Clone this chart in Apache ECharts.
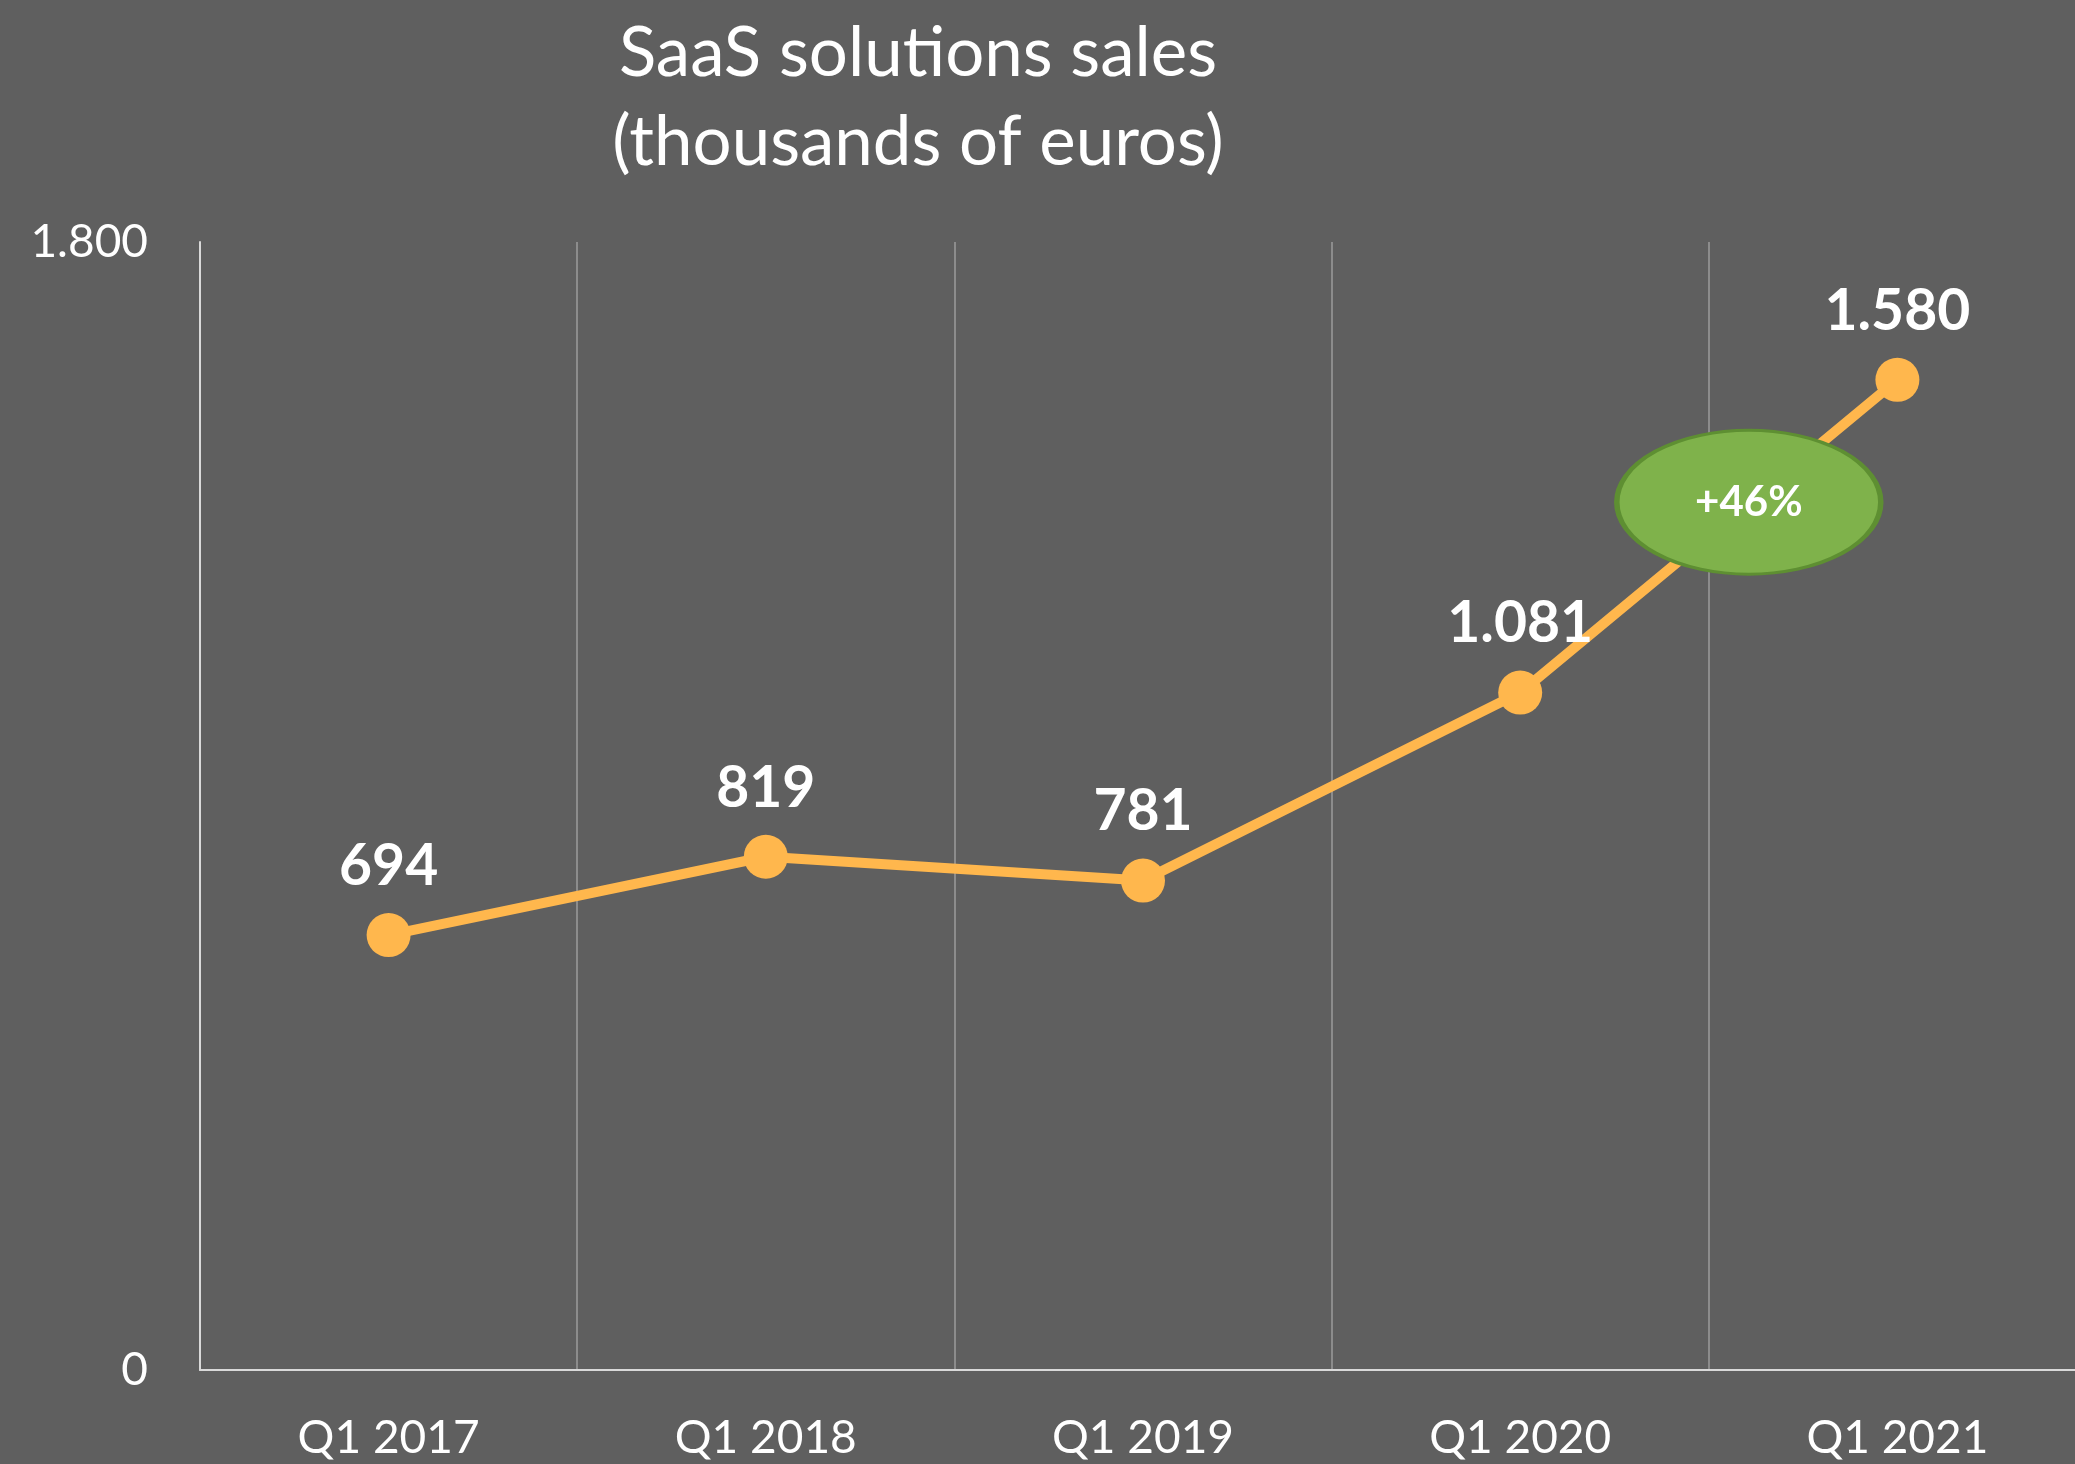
<!DOCTYPE html>
<html>
<head>
<meta charset="utf-8">
<script src="https://cdn.jsdelivr.net/npm/echarts@6/dist/echarts.min.js"></script>
<style>
html,body{margin:0;padding:0;background:#5f5f5f;}
#main{width:2075px;height:1464px;}
</style>
</head>
<body>
<div id="main"></div>
<script>
var categories = ['Q1 2017', 'Q1 2018', 'Q1 2019', 'Q1 2020', 'Q1 2021'];
var sales = [694, 819, 781, 1081, 1580];
var growthText = '+46%';

// formato europeo: 1.580
function fmt(v){
	return String(v).replace(/\B(?=(\d{3})+(?!\d))/g, '.');
}

var myChart = echarts.init(document.getElementById('main'));
var option = {
	backgroundColor: '#5f5f5f',
	animation: false,
	title: {
		text: 'SaaS solutions sales\n(thousands of euros)',
		left: 913,
		top: 4,
		textAlign: 'center',
		textStyle: {
			color: '#ffffff',
			fontFamily: 'Lato',
			fontWeight: 'normal',
			fontSize: 69,
			lineHeight: 89
		}
	},
	grid: {
		left: 200,
		width: 1886,
		top: 242,
		bottom: 94,
		outerBoundsMode: 'none'
	},
	xAxis: {
		type: 'category',
		data: categories,
		boundaryGap: true,
		axisLine: {lineStyle: {color: '#d9d9d9', width: 2}},
		axisTick: {show: false},
		axisLabel: {
			color: '#ffffff',
			fontFamily: 'Lato',
			fontSize: 46,
			margin: 45
		},
		splitLine: {show: true, lineStyle: {color: '#8c8c8c', width: 2}}
	},
	yAxis: {
		type: 'value',
		min: 0,
		max: 1800,
		interval: 1800,
		axisLine: {show: true, lineStyle: {color: '#d9d9d9', width: 2}},
		axisTick: {show: false},
		splitLine: {show: false},
		axisLabel: {
			color: '#ffffff',
			fontFamily: 'Lato',
			fontSize: 46,
			margin: 52,
			formatter: fmt
		}
	},
	series: [{
		type: 'line',
		data: sales,
		symbol: 'circle',
		symbolSize: 44,
		itemStyle: {color: '#ffb74d'},
		lineStyle: {color: '#ffb74d', width: 10},
		label: {
			show: true,
			position: 'top',
			distance: 18,
			color: '#ffffff',
			fontFamily: 'Lato',
			fontWeight: 'bold',
			fontSize: 57,
			formatter: function(p){ return fmt(p.value); }
		}
	}]
};
myChart.setOption(option);

/*ellisse verde della crescita, tra Q1 2020 e Q1 2021*/
var p1 = myChart.convertToPixel({gridIndex: 0}, [3, sales[3]]);
var p2 = myChart.convertToPixel({gridIndex: 0}, [4, sales[4]]);
var cx = (p1[0] + p2[0]) / 2 + 40;
var cy = (p1[1] + p2[1]) / 2 - 34;
myChart.setOption({
	graphic: [{
		type: 'group',
		x: cx,
		y: cy,
		z: 100,
		children: [{
			type: 'circle',
			z: 100,
			scaleX: 132 / 72,
			shape: {cx: 0, cy: 0, r: 72},
			style: {fill: '#7fb24b', stroke: '#5e8f32', lineWidth: 3, strokeNoScale: true}
		}, {
			type: 'text',
			z: 101,
			style: {
				text: growthText,
				x: 0,
				y: 0,
				align: 'center',
				verticalAlign: 'middle',
				fill: '#ffffff',
				fontFamily: 'Lato',
				fontWeight: 'bold',
				fontSize: 42
			}
		}]
	}]
});
</script>
</body>
</html>
